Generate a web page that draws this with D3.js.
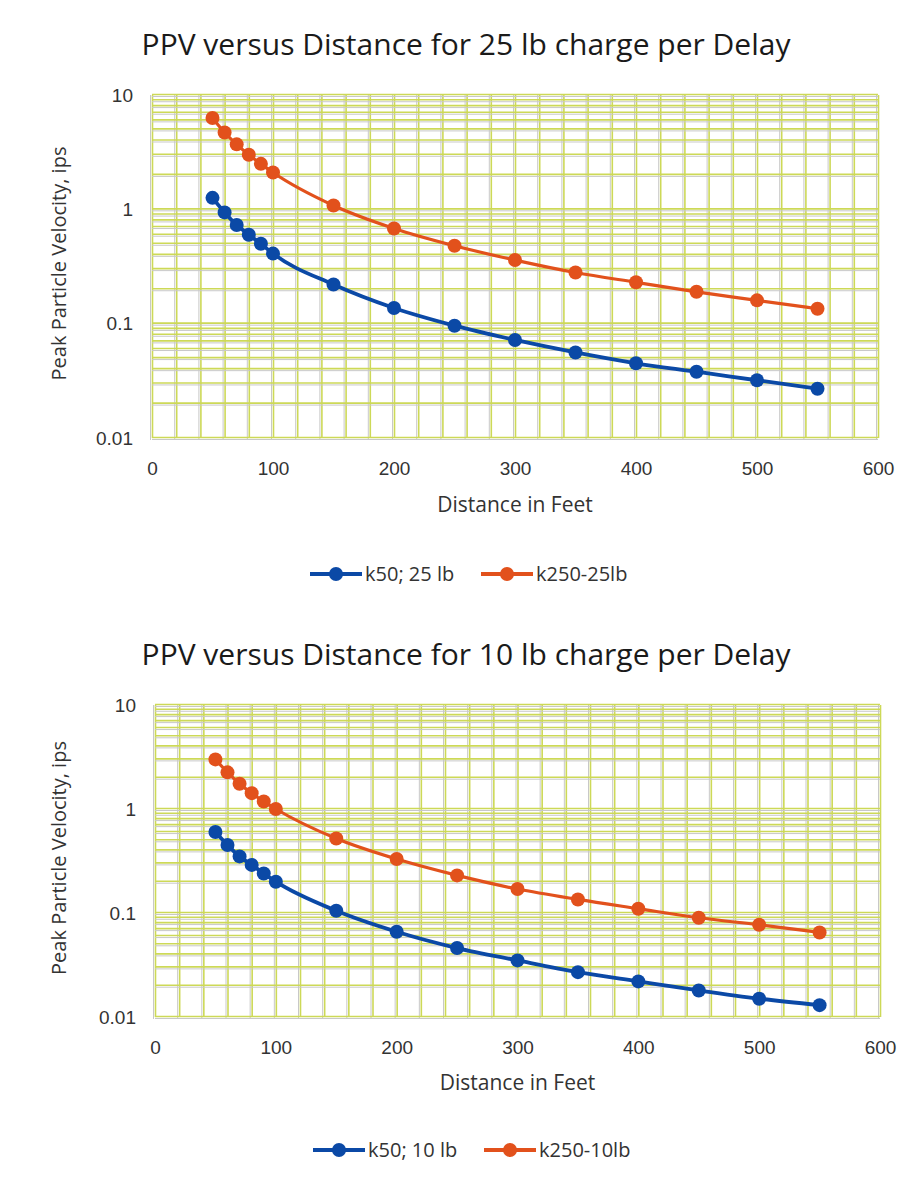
<!DOCTYPE html>
<html>
<head>
<meta charset="utf-8">
<script src="https://cdn.jsdelivr.net/npm/d3@7"></script>
<style>
  body { margin: 0; background: #fff; }
  svg { display: block; font-family: "Open Sans", "Noto Sans", sans-serif; }
  .tick text { fill: #333; }
</style>
</head>
<body>
<div class="chart-container"></div>
<script>
// Data - distance in feet and PPV (ips)
const distances = [50, 60, 70, 80, 90, 100, 150, 200, 250, 300, 350, 400, 450, 500, 550];
const k50_25lb  = [1.26, 0.94, 0.73, 0.60, 0.50, 0.41, 0.22, 0.137, 0.096, 0.072, 0.056, 0.045, 0.038, 0.032, 0.027];
const k250_25lb = [6.3, 4.7, 3.7, 3.0, 2.5, 2.1, 1.08, 0.68, 0.48, 0.36, 0.28, 0.23, 0.19, 0.16, 0.135];
const k50_10lb  = [0.60, 0.45, 0.35, 0.29, 0.24, 0.20, 0.105, 0.066, 0.046, 0.035, 0.027, 0.022, 0.018, 0.015, 0.013];
const k250_10lb = [3.0, 2.25, 1.75, 1.42, 1.18, 1.0, 0.52, 0.33, 0.23, 0.17, 0.135, 0.11, 0.09, 0.077, 0.065];

const xTicks = [0, 100, 200, 300, 400, 500, 600];
const yTicks = [0.01, 0.1, 1, 10];
const yTickLabels = ['0.01', '0.1', '1', '10'];

const charts = [
  {title: 'PPV versus Distance for 25 lb charge per Delay',
   series: [{name: 'k50; 25 lb', values: k50_25lb}, {name: 'k250-25lb', values: k250_25lb}]},
  {title: 'PPV versus Distance for 10 lb charge per Delay',
   series: [{name: 'k50; 10 lb', values: k50_10lb}, {name: 'k250-10lb', values: k250_10lb}]}
];

const colors = ['#0b49a6', '#e2511c'];

// layout of each panel (pixels)
const layouts = [
  {titleY: 55,  plot: {x0: 152, x1: 878, y0: 95,  y1: 438}, xLabY: 512, legY: 574, legX: [310, 481]},
  {titleY: 665, plot: {x0: 155, x1: 880, y0: 705, y1: 1017}, xLabY: 1090, legY: 1150, legX: [313, 484]}
];

const svg = d3.select('.chart-container').append('svg')
  .attr('width', 909).attr('height', 1183);

function drawChart(chart, lay){
  const p = lay.plot;
  const xScale = d3.scaleLinear().domain([0, 600]).range([p.x0, p.x1]);
  const yScale = d3.scaleLog().domain([0.01, 10]).range([p.y1, p.y0]);

  const g = svg.append('g');

  // graph paper grid: grey lines with yellow-green lines printed slightly offset
  const vGrid = d3.range(0, 601, 20);
  const hGrid = [];
  [0.01, 0.1, 1].forEach(dec => d3.range(1, 10).forEach(m => hGrid.push(dec * m)));
  hGrid.push(10);

  const grid = g.append('g').attr('class', 'grid');
  grid.selectAll('.vg').data(vGrid).enter().append('line')
    .attr('x1', d => xScale(d) - 1.5).attr('x2', d => xScale(d) - 1.5)
    .attr('y1', p.y0).attr('y2', p.y1 + 2)
    .style('stroke', '#c8c8c8').style('stroke-width', 1);
  grid.selectAll('.vy').data(vGrid).enter().append('line')
    .attr('x1', d => xScale(d) + 0.5).attr('x2', d => xScale(d) + 0.5)
    .attr('y1', p.y0).attr('y2', p.y1)
    .style('stroke', '#cdd957').style('stroke-width', 1.6);
  grid.selectAll('.hg').data(hGrid).enter().append('line')
    .attr('x1', p.x0).attr('x2', p.x1)
    .attr('y1', d => yScale(d) + 1.5).attr('y2', d => yScale(d) + 1.5)
    .style('stroke', '#c8c8c8').style('stroke-width', 1);
  grid.selectAll('.hy').data(hGrid).enter().append('line')
    .attr('x1', p.x0).attr('x2', p.x1)
    .attr('y1', d => yScale(d) - 0.5).attr('y2', d => yScale(d) - 0.5)
    .style('stroke', '#cdd957').style('stroke-width', 1.6);

  // axes (labels only)
  const xAxis = d3.axisBottom(xScale).tickValues(xTicks).tickSize(0).tickPadding(0);
  const xAxisDraw = g.append('g').attr('transform', `translate(0,${p.y1 + 30})`).call(xAxis);
  xAxisDraw.select('.domain').remove();
  xAxisDraw.selectAll('text').style('font-size', '19px').attr('dy', '0.35em');

  const yAxis = d3.axisLeft(yScale).tickValues(yTicks)
    .tickFormat((d, i) => yTickLabels[i]).tickSize(0).tickPadding(0);
  const yAxisDraw = g.append('g').attr('transform', `translate(${p.x0 - 19},0)`).call(yAxis);
  yAxisDraw.select('.domain').remove();
  yAxisDraw.selectAll('text').style('font-size', '19px');

  // series
  const line = d3.line()
    .x((d, i) => xScale(distances[i]))
    .y(d => yScale(d))
    .curve(d3.curveMonotoneX);

  chart.series.forEach((s, si) => {
    g.append('path').datum(s.values)
      .attr('d', line)
      .style('fill', 'none')
      .style('stroke', colors[si])
      .style('stroke-width', si == 0 ? 3.8 : 3.2);
    g.selectAll('.pt' + si).data(s.values).enter().append('circle')
      .attr('cx', (d, i) => xScale(distances[i]))
      .attr('cy', d => yScale(d))
      .attr('r', 7)
      .style('fill', colors[si]);
  });

  // title
  svg.append('text').attr('x', 466).attr('y', lay.titleY)
    .attr('text-anchor', 'middle')
    .style('font-size', '30px').style('fill', '#1a1a1a')
    .text(chart.title);

  // axis titles
  svg.append('text').attr('x', (p.x0 + p.x1) / 2).attr('y', lay.xLabY)
    .attr('text-anchor', 'middle').style('font-size', '21px').style('fill', '#333')
    .text('Distance in Feet');
  svg.append('text')
    .attr('transform', `translate(66,${(p.y0 + p.y1) / 2 - 3}) rotate(-90)`)
    .attr('text-anchor', 'middle').style('font-size', '20px').style('fill', '#333')
    .text('Peak Particle Velocity, ips');

  // legend
  const leg = svg.append('g');
  chart.series.forEach((s, si) => {
    const lx = lay.legX[si];
    leg.append('line').attr('x1', lx).attr('x2', lx + 52)
      .attr('y1', lay.legY).attr('y2', lay.legY)
      .style('stroke', colors[si]).style('stroke-width', 3.8);
    leg.append('circle').attr('cx', lx + 26).attr('cy', lay.legY).attr('r', 7)
      .style('fill', colors[si]);
    leg.append('text').attr('x', lx + 55).attr('y', lay.legY).attr('dy', '0.35em')
      .style('font-size', '20px').style('fill', '#333')
      .text(s.name);
  });
}

charts.forEach((c, i) => drawChart(c, layouts[i]));
</script>
</body>
</html>
